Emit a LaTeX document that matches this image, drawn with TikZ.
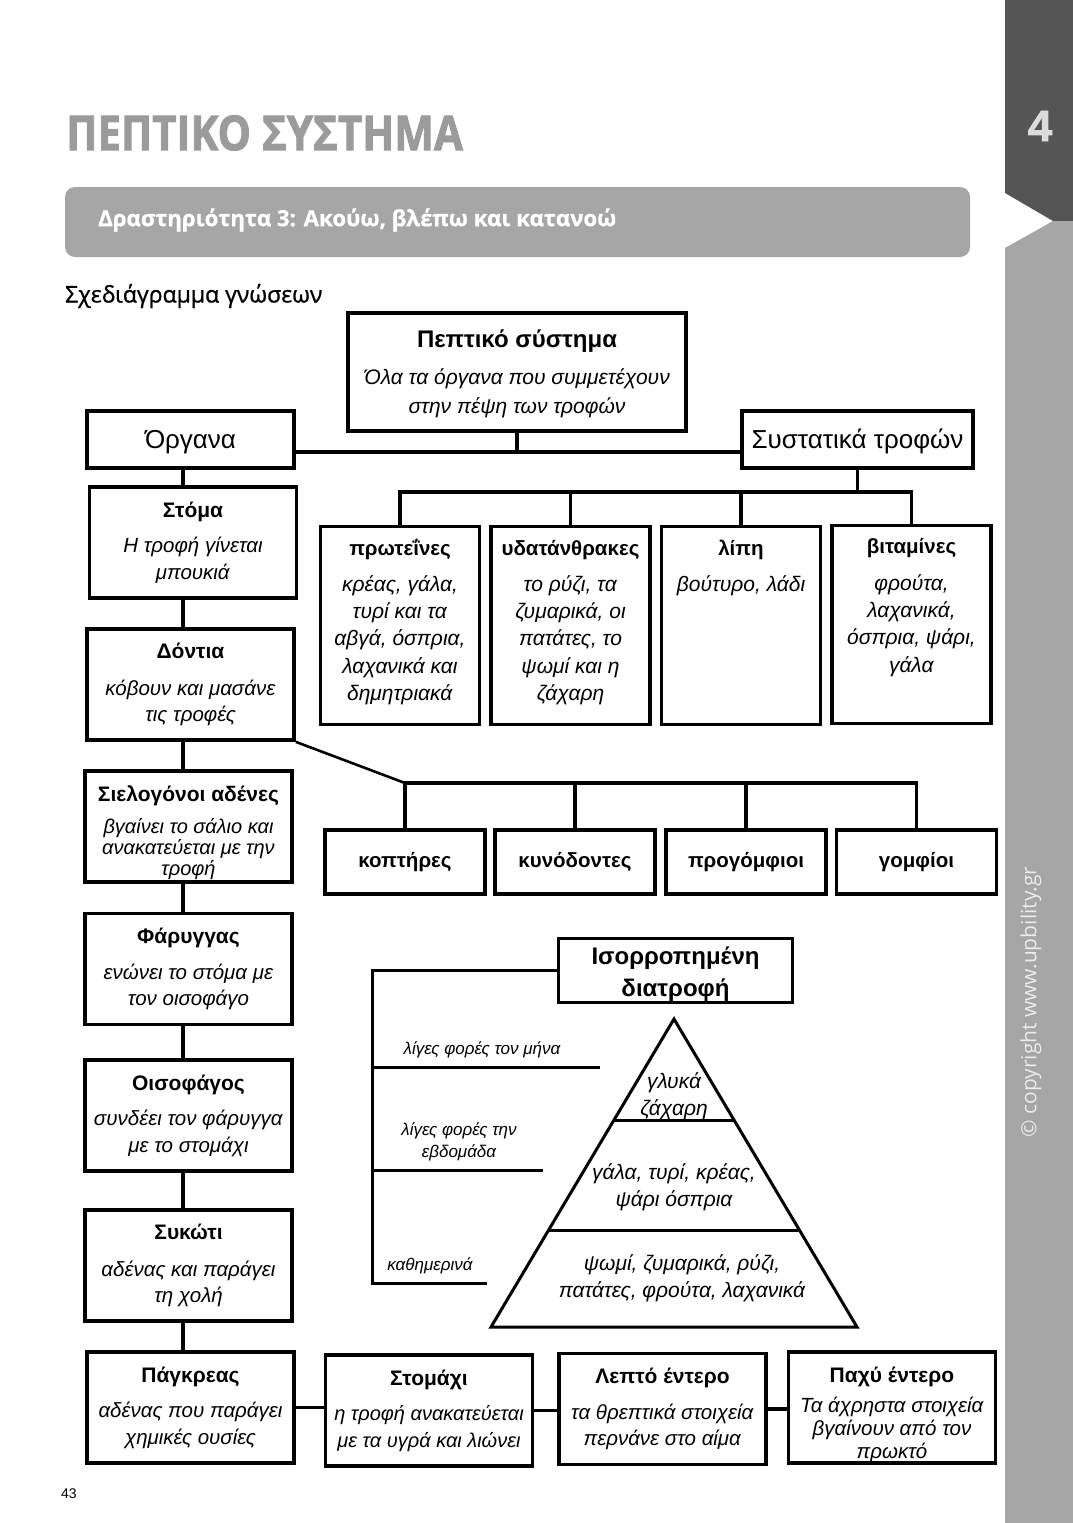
\documentclass[tikz,border=0pt]{standalone}
\usepackage{fontspec}
\setmainfont{Liberation Sans}
\newfontfamily\headfont{Open Sans}
\usetikzlibrary{positioning,calc}
\definecolor{stripdark}{HTML}{555555}
\definecolor{striplight}{HTML}{A6A6A6}
\definecolor{titlegray}{HTML}{9B9B9B}
\definecolor{chapgray}{HTML}{DCDCDC}

\newcommand{\organttl}[1]{{\bfseries\fontsize{21}{26.5}\selectfont #1}}

\tikzset{
  box/.style={draw, line width=3.8pt, fill=white, inner sep=0pt, align=center},
  organ box/.style={box, minimum width=207pt, minimum height=111pt, font=\fontsize{20.5}{26.5}\selectfont},
  food box/.style={box, minimum width=159pt, minimum height=198pt},
  tooth box/.style={box, minimum width=160pt, minimum height=64pt, font=\bfseries\fontsize{20.5}{24}\selectfont},
  food text/.style={align=center, anchor=north, inner sep=0pt, font=\fontsize{21}{27.3}\selectfont},
  link/.style={line width=3.8pt},
  freq line/.style={line width=3pt},
  freq text/.style={font=\itshape\fontsize{17}{22}\selectfont, align=center},
  pyr text/.style={font=\itshape\fontsize{21}{27}\selectfont, align=center}
}

\begin{document}
\begin{tikzpicture}[x=1pt,y=-1pt]
\useasboundingbox (0,0) rectangle (1073,1523);

% side strip
\fill[stripdark] (1005,0) -- (1073,0) -- (1073,221) -- (1053,221) -- (1005,193) -- cycle;
\fill[striplight] (1005,248) -- (1053,221) -- (1073,221) -- (1073,1523) -- (1005,1523) -- cycle;
\node[text=chapgray, font=\bfseries\fontsize{44}{44}\selectfont\addfontfeatures{FakeBold=1.5}] (chapnum) at (1040,126) {4};
\node[rotate=90, text=white!92!black, font=\headfont\fontsize{21}{22}\selectfont] (copyright) at (1031,1002) {© copyright www.upbility.gr};

% header
\node[anchor=west, inner sep=0pt, text=titlegray, font=\headfont\bfseries\fontsize{48}{50}\selectfont\addfontfeatures{FakeBold=2}] (title) at (66,133) {\scalebox{0.875}[1]{ΠΕΠΤΙΚΟ ΣΥΣΤΗΜΑ}};
\fill[striplight, rounded corners=10pt] (65,187) rectangle (970,257);
\node[anchor=west, inner sep=0pt, text=white, font=\headfont\bfseries\fontsize{22.2}{24}\selectfont\addfontfeatures{FakeBold=0.8}] (activity) at (98,220) {Δραστηριότητα 3: Ακούω, βλέπω και κατανοώ};
\node[anchor=west, inner sep=0pt, font=\headfont\fontsize{23}{24}\selectfont\addfontfeatures{FakeBold=1}] (subtitle) at (65,296) {Σχεδιάγραμμα γνώσεων};
\node[font=\fontsize{14}{16}\selectfont] (pagenum) at (69,1494) {43};

% top of the map
\node[box, minimum width=338pt, minimum height=118pt, font=\itshape\fontsize{21}{29}\selectfont] (pepsys) at (517,372)
  {\rule{0pt}{22pt}{\upshape\bfseries\fontsize{24}{29}\selectfont Πεπτικό σύστημα}\\[8pt]Όλα τα όργανα που συμμετέχουν\\στην πέψη των τροφών};
\node[box, minimum width=207pt, minimum height=57pt, font=\fontsize{26}{29}\selectfont] (organa) at (190.5,439.5) {\rule{0pt}{24pt}Όργανα};
\node[box, minimum width=231pt, minimum height=57pt, font=\fontsize{26}{29}\selectfont] (systat) at (857.5,439.5) {\rule{0pt}{24pt}Συστατικά τροφών};

% organs
\node[organ box] (stoma) at (193,542.5) {\organttl{Στόμα}\\[9pt]\textit{Η τροφή γίνεται}\\\textit{μπουκιά}};
\node[organ box] (dontia) at (190.5,684.5) {\organttl{Δόντια}\\[10pt]\textit{κόβουν και μασάνε}\\\textit{τις τροφές}};
\node[organ box, font=\fontsize{20}{21}\selectfont] (sielo) at (188.5,826.5) {\rule{0pt}{28pt}\organttl{Σιελογόνοι αδένες}\\[11pt]\textit{βγαίνει το σάλιο και}\\\textit{ανακατεύεται με την}\\\textit{τροφή}};
\node[organ box] (farygg) at (188.5,969) {\organttl{Φάρυγγας}\\[9pt]\textit{ενώνει το στόμα με}\\\textit{τον οισοφάγο}};
\node[organ box] (oisof) at (188.5,1115.5) {\organttl{Οισοφάγος}\\[9pt]\textit{συνδέει τον φάρυγγα}\\\textit{με το στομάχι}};
\node[organ box] (sykoti) at (188.5,1265.5) {\organttl{Συκώτι}\\[10pt]\textit{αδένας και παράγει}\\\textit{τη χολή}};
\node[organ box] (pagkr) at (190.5,1407.5) {\organttl{Πάγκρεας}\\[9pt]\textit{αδένας που παράγει}\\\textit{χημικές ουσίες}};
\node[organ box, font=\fontsize{20}{26.5}\selectfont] (stomaxi) at (429,1410.5) {\organttl{Στομάχι}\\[9pt]\textit{η τροφή ανακατεύεται}\\\textit{με τα υγρά και λιώνει}};
\node[organ box] (lepto) at (662.5,1409) {\organttl{Λεπτό έντερο}\\[9pt]\textit{τα θρεπτικά στοιχεία}\\\textit{περνάνε στο αίμα}};
\node[organ box, font=\fontsize{20.5}{23}\selectfont] (paxy) at (892,1407.5) {\rule{0pt}{30pt}\organttl{Παχύ έντερο}\\[7pt]\textit{Τα άχρηστα στοιχεία}\\\textit{βγαίνουν από τον}\\\textit{πρωκτό}};

% food components
\node[food box] (prot) at (400,625.5) {};
\node[food box] (ydat) at (570.5,625.5) {};
\node[food box] (lipi) at (741,625.5) {};
\node[food box] (vitam) at (911.5,624.5) {};
\node[food text] at ([yshift=-12pt]prot.north) {\rule{0pt}{19pt}\textbf{\fontsize{20.5}{27}\selectfont πρωτεΐνες}\\[8pt]\textit{κρέας, γάλα,}\\\textit{τυρί και τα}\\\textit{αβγά, όσπρια,}\\\textit{λαχανικά και}\\\textit{δημητριακά}};
\node[food text] at ([yshift=-12pt]ydat.north) {\rule{0pt}{19pt}\textbf{\fontsize{20.5}{27}\selectfont υδατάνθρακες}\\[8pt]\textit{το ρύζι, τα}\\\textit{ζυμαρικά, οι}\\\textit{πατάτες, το}\\\textit{ψωμί και η}\\\textit{ζάχαρη}};
\node[food text] at ([yshift=-12pt]lipi.north) {\rule{0pt}{19pt}\textbf{\fontsize{20.5}{27}\selectfont λίπη}\\[8pt]\textit{βούτυρο, λάδι}};
\node[food text] at ([yshift=-11pt]vitam.north) {\rule{0pt}{19pt}\textbf{\fontsize{20.5}{27}\selectfont βιταμίνες}\\[9pt]\textit{φρούτα,}\\\textit{λαχανικά,}\\\textit{όσπρια, ψάρι,}\\\textit{γάλα}};

% teeth
\node[tooth box] (kopt) at (405,862) {κοπτήρες};
\node[tooth box] (kyno) at (575,862) {κυνόδοντες};
\node[tooth box] (progo) at (746,862) {προγόμφιοι};
\node[tooth box] (gomf) at (916.5,862) {γομφίοι};

% balanced diet
\node[box, minimum width=234pt, minimum height=64pt, font=\bfseries\fontsize{24}{32}\selectfont] (isor) at (675.5,970.5) {\rule{0pt}{25pt}Ισορροπημένη\\διατροφή};

% connectors
\coordinate (spine) at (183,0);
\coordinate (hbar) at (0,452);
\coordinate (nbar) at (0,492);
\coordinate (tbar) at (0,783);
\draw[link] (organa.east |- hbar) -- (systat.west |- hbar);
\draw[link] (pepsys.south) -- (pepsys.south |- hbar);
\draw[link] (organa.south -| spine) -- (stoma.north -| spine);
\draw[link] (stoma.south -| spine) -- (dontia.north -| spine);
\draw[link] (dontia.south -| spine) -- (sielo.north -| spine);
\draw[link] (sielo.south -| spine) -- (farygg.north -| spine);
\draw[link] (farygg.south -| spine) -- (oisof.north -| spine);
\draw[link] (oisof.south -| spine) -- (sykoti.north -| spine);
\draw[link] (sykoti.south -| spine) -- (pagkr.north -| spine);
\draw[link] (pagkr.east) -- (pagkr.east -| stomaxi.west);
\draw[link] (stomaxi.east) -- (stomaxi.east -| lepto.west);
\draw[link] (lepto.east) -- (lepto.east -| paxy.west);

\draw[link] (systat.south) -- (systat.south |- nbar);
\draw[link] (prot.north) -- (prot.north |- nbar) -- (vitam.north |- nbar) -- (vitam.north);
\foreach \n in {ydat,lipi}
  \draw[link] (\n.north) -- (\n.north |- nbar);

\draw[line width=2.6pt] (dontia.south east) -- (kopt.north |- tbar);
\draw[link] (kopt.north) -- (kopt.north |- tbar) -- (gomf.north |- tbar) -- (gomf.north);
\foreach \n in {kyno,progo}
  \draw[link] (\n.north) -- (\n.north |- tbar);

% how often
\coordinate (fq) at (372,0);
\coordinate (month) at (600,1067);
\coordinate (week) at (543,1170);
\coordinate (daily) at (487,1283);
\draw[freq line] (isor.west) -- (isor.west -| fq) -- (fq |- daily) -- (daily);
\draw[freq line] (fq |- month) -- (month);
\draw[freq line] (fq |- week) -- (week);
\node[freq text] (monthtxt) at (482,1050) {λίγες φορές τον μήνα};
\node[freq text] (weektxt) at (459,1142) {λίγες φορές την\\εβδομάδα};
\node[freq text] (dailytxt) at (430,1266) {καθημερινά};

% pyramid
\coordinate (apex) at (674,1019);
\coordinate (baseL) at (491,1327);
\coordinate (baseR) at (857,1327);
\draw[line width=3pt] (apex) -- (baseR) -- (baseL) -- cycle;
\draw[line width=3pt] ($(apex)!0.331!(baseL)$) -- ($(apex)!0.331!(baseR)$);
\draw[line width=3pt] ($(apex)!0.688!(baseL)$) -- ($(apex)!0.688!(baseR)$);
\node[pyr text] (sweets) at (674,1096) {γλυκά\\ζάχαρη};
\node[pyr text] (dairy) at (674,1187) {γάλα, τυρί, κρέας,\\ψάρι όσπρια};
\node[pyr text] (grains) at (682,1278) {ψωμί, ζυμαρικά, ρύζι,\\πατάτες, φρούτα, λαχανικά};
\end{tikzpicture}
\end{document}
